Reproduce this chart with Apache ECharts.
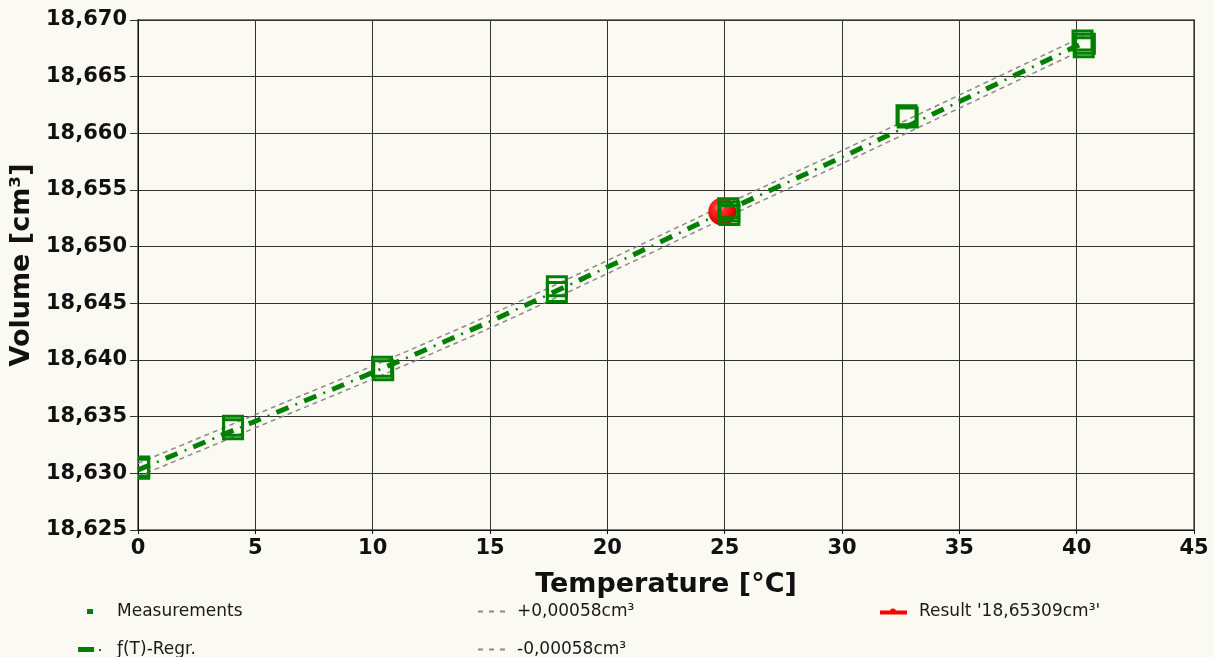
<!DOCTYPE html>
<html>
<head>
<meta charset="utf-8">
<script src="https://cdn.jsdelivr.net/npm/echarts@6/dist/echarts.min.js"></script>
<style>
html,body{margin:0;padding:0;background:#faf9f2;}
#chart{width:1214px;height:657px;}
</style>
</head>
<body>
<div id="chart"></div>
<script>
// ---- data ----
var xTicks = [0, 5, 10, 15, 20, 25, 30, 35, 40, 45];
var yTicks = [18.625, 18.630, 18.635, 18.640, 18.645, 18.650, 18.655, 18.660, 18.665, 18.670];

var measT = [0.05, 0.05, 4.05, 4.05, 10.4, 10.45, 17.85, 17.85, 25.15, 25.2, 25.2, 32.75, 32.8, 40.25, 40.3, 40.35];
var measV = [18.6306, 18.6304, 18.6342, 18.6339, 18.6394, 18.6391, 18.6465, 18.6460, 18.6534, 18.6531, 18.6528, 18.6616, 18.6614, 18.6682, 18.6676, 18.6679];

var regrT = [0, 5, 10, 15, 20, 25, 30, 35, 40, 40.3];
var regrV = [18.6303, 18.6346, 18.6389, 18.6434, 18.6482, 18.6531, 18.6579, 18.6628, 18.6677, 18.6680];
var upperV = [18.63088, 18.63518, 18.63948, 18.64398, 18.64878, 18.65368, 18.65848, 18.66338, 18.66828, 18.66858];
var lowerV = [18.62972, 18.63402, 18.63832, 18.64282, 18.64762, 18.65252, 18.65732, 18.66222, 18.66712, 18.66742];

var resultT = [24.9];
var resultV = [18.65309];

var names = {
  meas: 'Measurements',
  regr: '\u0192(T)-Regr.',
  up: '+0,00058cm\u00b3',
  low: '-0,00058cm\u00b3',
  res: "Result '18,65309cm\u00b3'"
};

function zip(a, b) { return a.map(function (v, i) { return [v, b[i]]; }); }

var GREEN = '#008000';
var GREY = '#8a8a8a';
var BOLD = 'DejaVu Sans';

var chart = echarts.init(document.getElementById('chart'));

function legendOf(name, left, top, w, h, icon, pad, color) {
  return {
    data: [{ name: name, icon: icon, itemStyle: { color: color, borderWidth: 0 } }],
    left: left, top: top, padding: 0,
    itemWidth: w, itemHeight: h,
    selectedMode: false,
    textStyle: { fontFamily: 'DejaVu Sans', fontSize: 17, color: '#1a1a1a', padding: [0, 0, 0, pad] }
  };
}

var option = {
  backgroundColor: '#faf9f2',
  animation: false,
  grid: { left: 138, right: 20, top: 20, bottom: 127, show: true, borderColor: '#7a7a7a', borderWidth: 2, backgroundColor: 'transparent' },
  xAxis: {
    type: 'value', min: 0, max: 45, interval: 5,
    name: 'Temperature [\u00b0C]', nameLocation: 'middle', nameGap: 41,
    nameTextStyle: { fontFamily: BOLD, fontWeight: 'bold', fontSize: 27, color: '#111' },
    axisLine: { show: true, onZero: false, lineStyle: { color: '#111', width: 1 } },
    axisTick: { show: true, length: 4, lineStyle: { color: '#111' } },
    axisLabel: { margin: 8, fontFamily: BOLD, fontWeight: 'bold', fontSize: 21, color: '#111',
      formatter: function (v) { return xTicks.indexOf(v) >= 0 ? String(v) : ''; } },
    splitLine: { show: true, lineStyle: { color: '#333', width: 1 } }
  },
  yAxis: {
    type: 'value', min: 18.625, max: 18.670, interval: 0.005,
    name: 'Volume [cm\u00b3]', nameLocation: 'middle', nameGap: 100,
    nameTextStyle: { fontFamily: BOLD, fontWeight: 'bold', fontSize: 27, color: '#111', padding: [0, 0, 0, 20] },
    axisLine: { show: true, onZero: false, lineStyle: { color: '#111', width: 1 } },
    axisTick: { show: true, length: 8, lineStyle: { color: '#333' } },
    axisLabel: { margin: 11, fontFamily: BOLD, fontWeight: 'bold', fontSize: 21, color: '#111',
      formatter: function (v) {
        var s = v.toFixed(3);
        return yTicks.some(function (t) { return Math.abs(t - v) < 1e-6; }) ? s.replace('.', ',') : '';
      } },
    splitLine: { show: true, lineStyle: { color: '#333', width: 1 } }
  },
  legend: [
    legendOf(names.meas, 87, 603, 6, 5, 'rect', 19, GREEN),
    legendOf(names.regr, 78, 641, 23, 5, 'path://M0,0H16V5H0Z M21,2H23V4H21Z', 11, GREEN),
    legendOf(names.up, 478, 603, 27, 2, 'path://M0,0H5V2H0Z M11,0H16V2H11Z M22,0H27V2H22Z', 7, GREY),
    legendOf(names.low, 478, 641, 27, 2, 'path://M0,0H5V2H0Z M11,0H16V2H11Z M22,0H27V2H22Z', 7, GREY),
    legendOf(names.res, 880, 603, 27, 7, 'path://M0,3H27V7H0Z M10,4 A3,3 0 1,1 16,4 Z', 7, '#ff0000')
  ],
  series: [
    {
      name: names.up, type: 'line', data: zip(regrT, upperV), smooth: 0.3, symbol: 'none', z: 2,
      color: GREY, lineStyle: { color: GREY, width: 1.5, type: [5, 4] }
    },
    {
      name: names.low, type: 'line', data: zip(regrT, lowerV), smooth: 0.3, symbol: 'none', z: 2,
      color: GREY, lineStyle: { color: GREY, width: 1.5, type: [5, 4] }
    },
    {
      name: names.regr, type: 'line', data: zip(regrT, regrV), smooth: 0.3, symbol: 'none', z: 3,
      color: GREEN, lineStyle: { color: GREEN, width: 5, type: [13, 17], cap: 'butt' }
    },
    {
      name: '_dots', type: 'line', data: zip(regrT, regrV), smooth: 0.3, symbol: 'none', z: 3,
      color: GREEN, lineStyle: { color: GREEN, width: 2.5, type: [2, 28], dashOffset: 9.5, cap: 'butt' }
    },
    {
      name: names.res, type: 'scatter', data: zip(resultT, resultV), symbol: 'circle', symbolSize: 28, z: 4,
      color: '#ff0000',
      itemStyle: {
        color: new echarts.graphic.RadialGradient(0.4, 0.35, 0.7, [
          { offset: 0, color: '#ffe0e0' },
          { offset: 0.25, color: '#ff3030' },
          { offset: 0.8, color: '#e00000' },
          { offset: 1, color: '#b00000' }
        ]),
        opacity: 1
      }
    },
    {
      name: names.meas, type: 'custom', data: zip(measT, measV), z: 5, clip: true,
      color: GREEN,
      encode: { x: 0, y: 1 },
      renderItem: function (params, api) {
        var p = api.coord([api.value(0), api.value(1)]);
        return {
          type: 'rect',
          shape: { x: p[0] - 9.5, y: p[1] - 9.5, width: 19, height: 19 },
          style: { fill: 'none', stroke: GREEN, lineWidth: 3 }
        };
      }
    }
  ]
};

chart.setOption(option);
</script>
</body>
</html>
